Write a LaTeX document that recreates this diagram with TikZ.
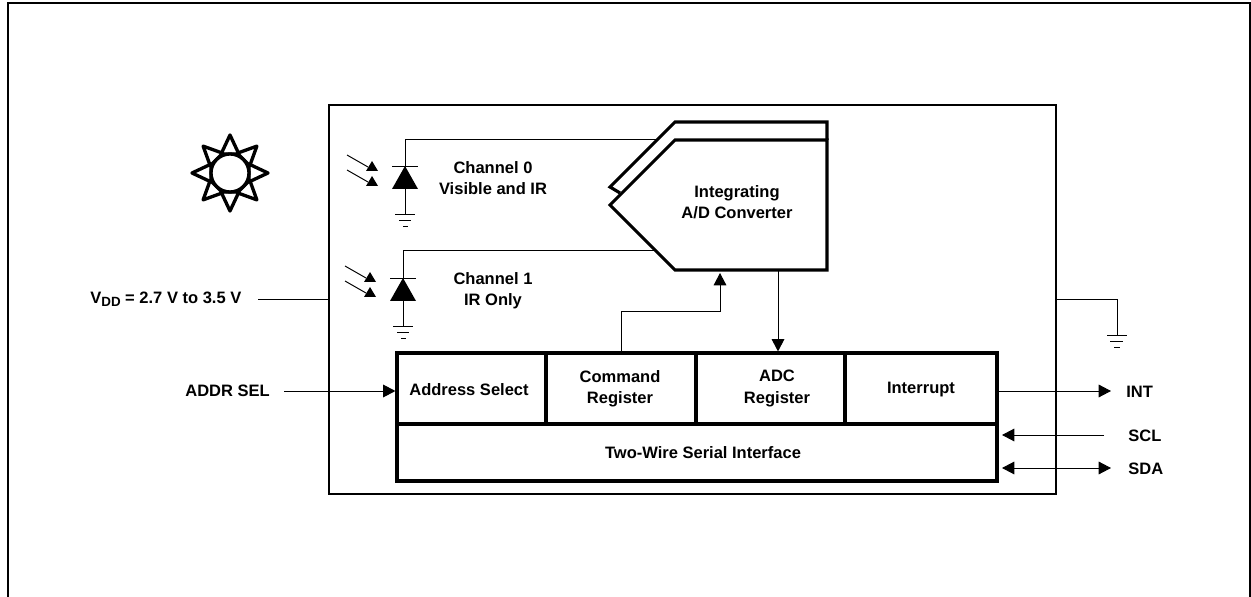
\documentclass[tikz,border=0pt]{standalone}
\usepackage{fontspec}
\setmainfont{Liberation Sans}
\usetikzlibrary{arrows.meta}
\tikzset{
	wire/.style={line width=0.55pt},
	heavy/.style={line width=1.8pt},
	frameline/.style={line width=1.1pt},
	tip/.style={-{Triangle[length=7pt,width=7.2pt]}},
	tips/.style={{Triangle[length=7pt,width=7.2pt]}-{Triangle[length=7pt,width=7.2pt]}},
	blockbox/.style={draw,heavy,inner sep=0pt},
	textlabel/.style={inner sep=0pt,align=center,font=\labelfont},
	sunline/.style={line width=1.9pt,line join=round},
}
\newcommand{\labelfont}{\fontsize{9.4pt}{12pt}\bfseries\selectfont}
\begin{document}
\begin{tikzpicture}[x=0.02cm,y=-0.02cm]
	\useasboundingbox (0,0) rectangle (1251,597);
	% outer frame, open at the bottom
	\draw[frameline] (8,597)--(8,3)--(1250,3)--(1250,597);
	\node[draw,frameline,minimum width=14.54cm,minimum height=7.78cm] (chip) at (692.5,299.5) {};
	% sun
	\foreach \a in {0,45,...,315}
		\draw[sunline] (230,173)+(\a-25:21) -- +(\a:38) -- +(\a+25:21) -- cycle;
	\draw[sunline,fill=white] (230,173) circle [radius=19];
	% converter
	\coordinate (adcback) at (827,140);
	\draw[heavy] (620,193)--(610,187)--(675,122)--(827,122)--(adcback);
	\draw[heavy,line join=miter] (610,205)--(675,140)--(adcback)--(827,270)--(675,270)--cycle;
	\coordinate (adctop) at (656,139);
	\coordinate (adcbot) at (656,250);
	\coordinate (adccmd) at (720,273);
	\coordinate (adcout) at (778,270);
	\node[textlabel] (adctext) at (737,202) {Integrating\\A/D Converter};
	% channel 0
	\coordinate (pd0top) at (405,139);
	\coordinate (pd0gnd) at (405,214);
	\draw[wire] (adctop)--(pd0top)--(pd0gnd);
	\draw[wire] (392,166)--(418,166);
	\fill (405,166)--(418,189)--(392,189)--cycle;
	\draw[wire] (395,214)--(415,214);
	\draw[wire] (399,220)--(411,220);
	\draw[wire] (403,226)--(408,226);
	\draw[wire] (347,155)--(368,167);
	\draw[wire] (347,170)--(368,182);
	\fill (372,161)--(378,171)--(366,171)--cycle;
	\fill (372,176)--(378,186)--(366,186)--cycle;
	\node[textlabel] (ch0) at (493,178.5) {Channel 0\\Visible and IR};
	% channel 1
	\coordinate (pd1top) at (403,250);
	\coordinate (pd1gnd) at (403,326);
	\draw[wire] (adcbot)--(pd1top)--(pd1gnd);
	\draw[wire] (390,278)--(416,278);
	\fill (403,278)--(416,301)--(390,301)--cycle;
	\draw[wire] (393,326)--(413,326);
	\draw[wire] (397,332)--(409,332);
	\draw[wire] (401,338)--(406,338);
	\draw[wire] (345,266)--(366,278);
	\draw[wire] (345,281)--(366,293);
	\fill (370,272)--(376,282)--(364,282)--cycle;
	\fill (370,287)--(376,297)--(364,297)--cycle;
	\node[textlabel] (ch1) at (493,290.5) {Channel 1\\IR Only};
	% register row
	\node[blockbox,minimum width=2.98cm,minimum height=1.42cm] (addr) at (471.5,388.5) {};
	\node[blockbox,minimum width=3cm,minimum height=1.42cm] (cmd) at (621,388.5) {};
	\node[blockbox,minimum width=2.98cm,minimum height=1.42cm] (adcreg) at (770.5,388.5) {};
	\node[blockbox,minimum width=3.04cm,minimum height=1.42cm] (intr) at (921,388.5) {};
	\node[blockbox,minimum width=12cm,minimum height=1.14cm] (twi) at (697,452.5) {};
	\node[textlabel] (addrtext) at (469,390) {Address Select};
	\node[textlabel] (cmdtext) at (620,388.5) {Command\\Register};
	\node[textlabel] (adctxt) at (777,388.5) {ADC\\Register};
	\node[textlabel] (intrtext) at (921,389.5) {Interrupt};
	\node[textlabel] (twitext) at (703,453) {Two-Wire Serial Interface};
	\draw[wire,tip] (cmd.north)--(621,311)--(adccmd |- 0,311)--(adccmd);
	\draw[wire,tip] (adcout)--(adcout |- adcreg.north);
	% supply
	\node[textlabel,anchor=west] (vdd) at (90,299) {V\raisebox{-2pt}{\fontsize{7.6pt}{8pt}\bfseries\selectfont DD} = 2.7 V to 3.5 V};
	\coordinate (vddend) at (258,299);
	\draw[wire] (vddend)--(chip.west |- vddend);
	\coordinate (gndtop) at (1117,299);
	\coordinate (gndend) at (1117,335);
	\draw[wire] (chip.east |- gndtop)--(gndtop)--(gndend);
	\draw[wire] (1107,335)--(1127,335);
	\draw[wire] (1110,341)--(1123,341);
	\draw[wire] (1114,347)--(1120,347);
	% pins
	\node[textlabel,anchor=west] (addrsel) at (185,391) {ADDR SEL};
	\coordinate (addrend) at (284,391);
	\draw[wire,tip] (addrend)--(addr.west |- addrend);
	\node[textlabel,anchor=west] (int) at (1126,392) {INT};
	\coordinate (intend) at (1111,391);
	\draw[wire,tip] (intr.east |- intend)--(intend);
	\node[textlabel,anchor=west] (scl) at (1128,436) {SCL};
	\coordinate (sclstart) at (1104,435);
	\coordinate (sclend) at (1002,435);
	\draw[wire,tip] (sclstart)--(sclend);
	\node[textlabel,anchor=west] (sda) at (1128,469) {SDA};
	\coordinate (sdaleft) at (1002,468);
	\coordinate (sdaright) at (1111,468);
	\draw[wire,tips] (sdaleft)--(sdaright);
\end{tikzpicture}
\end{document}
